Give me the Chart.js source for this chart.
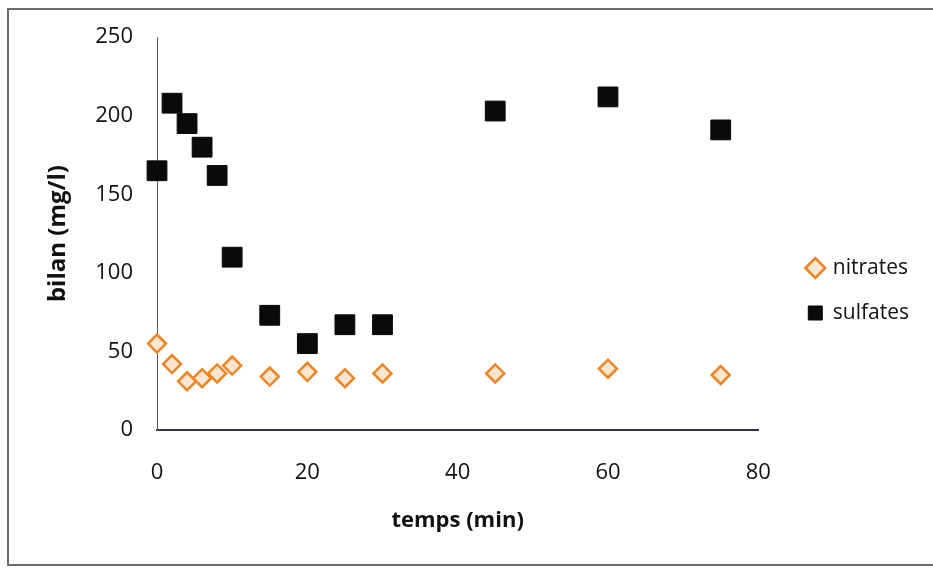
<!DOCTYPE html>
<html>
<head>
<meta charset="utf-8">
<script src="https://cdn.jsdelivr.net/npm/chart.js@4.4.1/dist/chart.umd.min.js"></script>
<style>
  html, body { margin: 0; padding: 0; background: #fff; overflow: hidden; }
  #wrap { position: relative; width: 933px; height: 568px; }
  #frame {
    position: absolute; left: 7px; top: 8px; width: 940px; height: 554px;
    border: 2px solid #6a6a70; pointer-events: none;
  }
</style>
</head>
<body>
<div id="wrap">
  <canvas id="my_graph" width="933" height="568"></canvas>
  <div id="frame"></div>
</div>
<script>
const temps = [0, 2, 4, 6, 8, 10, 15, 20, 25, 30, 45, 60, 75];
const nitrates = [55, 42, 31, 33, 36, 41, 34, 37, 33, 36, 36, 39, 35];
const sulfates = [165, 208, 195, 180, 162, 110, 73, 55, 67, 67, 203, 212, 191];
const xTicks = [0, 20, 40, 60, 80];
const yTicks = [0, 50, 100, 150, 200, 250];

const toPoints = values => temps.map((t, i) => ({ x: t, y: values[i] }));

// pushes the legend a bit away from the plot
const legendGap = {
  id: 'legendGap',
  afterLayout(chart) {
    const legend = chart.legend;
    if (!legend) return;
    legend.left += 26;
    legend.right += 26;
  }
};

Chart.defaults.font.family = '"Open Sans", sans-serif';
Chart.defaults.color = '#111';

const ctx = document.getElementById('my_graph');

new Chart(ctx, {
  type: 'scatter',
  data: {
    datasets: [{
      label: 'nitrates',
      data: toPoints(nitrates),
      pointStyle: 'rectRot',
      pointRadius: 9,
      borderWidth: 2.5,
      borderColor: '#ee8423',
      backgroundColor: '#fce6d0',
      pointHoverRadius: 9,
      clip: false
    }, {
      label: 'sulfates',
      data: toPoints(sulfates),
      pointStyle: 'rect',
      pointRadius: 14,
      borderWidth: 1,
      borderColor: '#080808',
      backgroundColor: '#0a0a0a',
      pointHoverRadius: 14,
      clip: false
    }]
  },
  options: {
    responsive: false,
    animation: false,
    layout: { padding: { top: 37, left: 0, right: 40, bottom: 24 } },
    scales: {
      x: {
        type: 'linear',
        min: 0,
        max: 80,
        afterBuildTicks: s => { s.ticks = xTicks.map(v => ({ value: v })); },
        afterFit: s => { s.height = 114; },
        grid: { display: false, drawTicks: false },
        border: { display: true, color: '#34344a', width: 2 },
        ticks: { font: { size: 22 }, padding: 30, color: '#111' },
        title: {
          display: true,
          text: 'temps (min)',
          font: { size: 22, weight: 'bold' },
          padding: { top: 0, bottom: 10 },
          color: '#111'
        }
      },
      y: {
        type: 'linear',
        min: 0,
        max: 250,
        afterBuildTicks: s => { s.ticks = yTicks.map(v => ({ value: v })); },
        afterFit: s => { s.width = 157; },
        grid: { display: false, drawTicks: false },
        border: { display: true, color: '#555', width: 1 },
        ticks: { font: { size: 22 }, padding: 24, color: '#111' },
        title: {
          display: true,
          text: 'bilan (mg/l)',
          font: { size: 24, weight: 'bold' },
          padding: { top: 44, bottom: 0 },
          color: '#111'
        }
      }
    },
    plugins: {
      legend: {
        position: 'right',
        labels: {
          usePointStyle: true,
          boxWidth: 14,
          boxHeight: 14,
          padding: 24,
          font: { size: 21 },
          color: '#111'
        }
      },
      tooltip: { enabled: false }
    }
  },
  plugins: [legendGap]
});
</script>
</body>
</html>
